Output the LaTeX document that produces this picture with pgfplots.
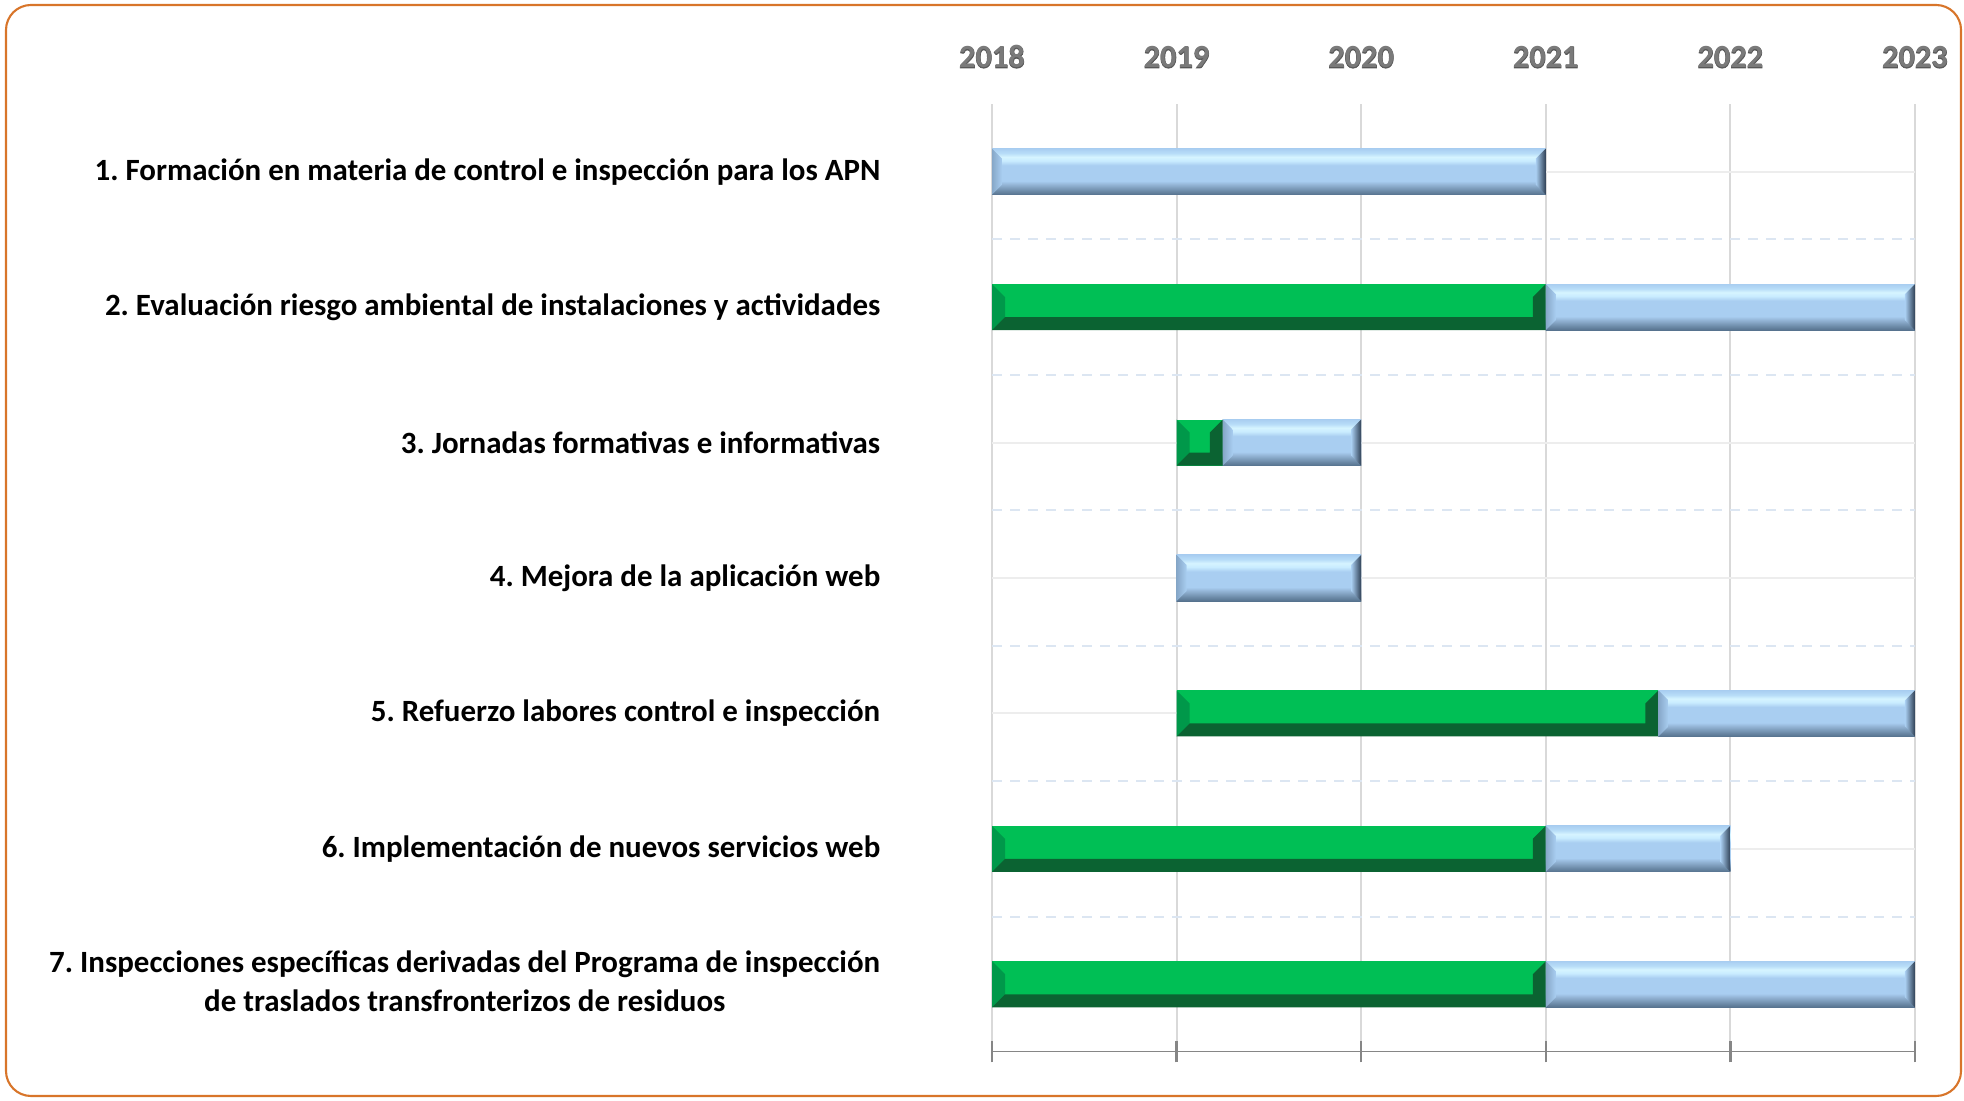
\documentclass[border=0pt]{standalone}
\usepackage{fontspec}
\setmainfont{Carlito}
\newfontfamily\tickfam{Carlito}[BoldFeatures={FakeBold=2.2}]
\usepackage{pgfplots}
\pgfplotsset{compat=1.18}
\usetikzlibrary{calc}
\frenchspacing

\definecolor{gface}{HTML}{00BF55}
\definecolor{gleft}{HTML}{00984A}
\definecolor{gdark}{HTML}{0B6332}
\definecolor{bA}{HTML}{56728E}
\definecolor{bB}{HTML}{6B89A6}
\definecolor{bC}{HTML}{93B4D5}
\definecolor{bD}{HTML}{A9CEF1}
\definecolor{bE}{HTML}{C9ECFF}
\definecolor{bF}{HTML}{D6F4FF}
\definecolor{bG}{HTML}{B8DDF8}
\definecolor{bL}{HTML}{86A7C8}
\definecolor{bR}{HTML}{2E3F54}
\definecolor{gridv}{HTML}{D9D9D9}
\definecolor{gridh}{HTML}{EDEDED}
\definecolor{gridd}{HTML}{DCE6F2}
\definecolor{axisgray}{HTML}{868686}
\definecolor{tickgray}{HTML}{7A7A7A}
\definecolor{tickdark}{HTML}{575757}
\definecolor{framec}{HTML}{D8752A}

% year label: grey figures with a darker rim
\newcommand\tk[1]{\ooalign{\hfil{\color{tickdark}\tickfam\bfseries #1}\hfil\cr
  \hfil{\color{tickgray}\bfseries #1}\hfil\cr}}

% soft bevel of the light blue bars (25bp..75bp is the bar height)
\pgfdeclareverticalshading{bluebar}{100bp}{color(0bp)=(bA); color(25bp)=(bA);
  color(29bp)=(bB); color(36bp)=(bC); color(40bp)=(bD); color(57bp)=(bD);
  color(62bp)=(bE); color(66bp)=(bF); color(70bp)=(bG); color(75bp)=(bD);
  color(100bp)=(bD)}

% bevel drawn inside each bar; the guard stops the inner paths from nesting
\newcommand\greenbev{%
  \ifdefined\bevguard\else\def\bevguard{}%
    \coordinate (q1) at (path picture bounding box.south west);
    \coordinate (q2) at (path picture bounding box.north east);
    \fill[gleft] (q1) -- ($(q1)+(1.3mm,1.3mm)$) -- ($(q1|-q2)+(1.3mm,-1.3mm)$)
      -- (q1|-q2) -- cycle;
    \fill[gdark] (q1) -- (q2|-q1) -- (q2) -- ($(q2)+(-1.3mm,-1.3mm)$)
      -- ($(q2|-q1)+(-1.3mm,1.3mm)$) -- ($(q1)+(1.3mm,1.3mm)$) -- cycle;
  \fi}
\newcommand\bluebev{%
  \ifdefined\bevguard\else\def\bevguard{}%
    \coordinate (q1) at (path picture bounding box.south west);
    \coordinate (q2) at (path picture bounding box.north east);
    \shade[left color=bL, right color=bD] (q1) -- ($(q1)+(1mm,1mm)$)
      -- ($(q1|-q2)+(1mm,-1mm)$) -- (q1|-q2) -- cycle;
    \shade[left color=bD, right color=bR] (q2|-q1) -- (q2)
      -- ($(q2)+(-1mm,-1mm)$) -- ($(q2|-q1)+(-1mm,1mm)$) -- cycle;
  \fi}
\pgfplotsset{
  done/.style={fill=gface, draw=none, path picture={\greenbev}},
  todo/.style={shade, shading=bluebar, draw=none, path picture={\bluebev}},
}

\begin{document}
\begin{tikzpicture}
\useasboundingbox (0,0) rectangle (196.4mm,110.1mm);
\draw[framec, line width=0.6pt, rounded corners=2.5mm] (0.6mm,0.5mm) rectangle (196.1mm,109.6mm);
\begin{axis}[
    at={(99.2mm,4.9mm)}, anchor=south west,
    scale only axis,
    width=92.3mm, height=94.8mm,
    no markers,
    xmin=2018, xmax=2023,
    ymin=0.5, ymax=7.5,
    xtick={2018,2019,2020,2021,2022,2023},
    xticklabels={\tk{2018},\tk{2019},\tk{2020},\tk{2021},\tk{2022},\tk{2023}},
    xtick pos=left, xticklabel pos=right,
    ytick={1,2,3,4,5,6,7},
    minor ytick={1.5,2.5,3.5,4.5,5.5,6.5},
    ytick pos=left,
    yticklabels={
      {\begin{tabular}{@{}c@{}}7. Inspecciones específicas derivadas del Programa de inspección\\de traslados transfronterizos de residuos\end{tabular}},
      6. Implementación de nuevos servicios web,
      5. Refuerzo labores control e inspección,
      4. Mejora de la aplicación web,
      3. Jornadas formativas e informativas,
      2. Evaluación riesgo ambiental de instalaciones y actividades,
      1. Formación en materia de control e inspección para los APN},
    yticklabel style={font=\fontsize{8.8}{11.1}\selectfont\bfseries, text=black,
      inner xsep=0pt, xshift=-10.05mm},
    xticklabel style={font=\fontsize{9.2}{11}\selectfont,
      anchor=base, yshift=2.55mm},
    axis line style={draw=none},
    tick align=center,
    major tick length=2.1mm,
    xtick style={draw=axisgray, line width=0.25mm},
    ytick style={draw=none},
    xmajorgrids, ymajorgrids, yminorgrids,
    major x grid style={draw=gridv, line width=0.2mm},
    major y grid style={draw=gridh, line width=0.2mm},
    minor y grid style={draw=gridd, line width=0.2mm, dash pattern=on 1mm off 0.8mm},
]
    % each bar: start year, end year, row (bar height 0.34)
    % 1. Formacion
    \addplot[todo] coordinates {(2018,6.83) (2021,6.83) (2021,7.17) (2018,7.17)} -- cycle;
    % 2. Evaluacion riesgo ambiental
    \addplot[done] coordinates {(2018,5.83) (2021,5.83) (2021,6.17) (2018,6.17)} -- cycle;
    \addplot[todo] coordinates {(2021,5.83) (2023,5.83) (2023,6.17) (2021,6.17)} -- cycle;
    % 3. Jornadas
    \addplot[done] coordinates {(2019,4.83) (2019.25,4.83) (2019.25,5.17) (2019,5.17)} -- cycle;
    \addplot[todo] coordinates {(2019.25,4.83) (2020,4.83) (2020,5.17) (2019.25,5.17)} -- cycle;
    % 4. Mejora aplicacion web
    \addplot[todo] coordinates {(2019,3.83) (2020,3.83) (2020,4.17) (2019,4.17)} -- cycle;
    % 5. Refuerzo labores
    \addplot[done] coordinates {(2019,2.83) (2021.61,2.83) (2021.61,3.17) (2019,3.17)} -- cycle;
    \addplot[todo] coordinates {(2021.61,2.83) (2023,2.83) (2023,3.17) (2021.61,3.17)} -- cycle;
    % 6. Nuevos servicios web
    \addplot[done] coordinates {(2018,1.83) (2021,1.83) (2021,2.17) (2018,2.17)} -- cycle;
    \addplot[todo] coordinates {(2021,1.83) (2022,1.83) (2022,2.17) (2021,2.17)} -- cycle;
    % 7. Inspecciones traslados
    \addplot[done] coordinates {(2018,0.83) (2021,0.83) (2021,1.17) (2018,1.17)} -- cycle;
    \addplot[todo] coordinates {(2021,0.83) (2023,0.83) (2023,1.17) (2021,1.17)} -- cycle;
    \draw[axisgray, line width=0.25mm] (rel axis cs:0,0) -- (rel axis cs:1,0);
\end{axis}
\end{tikzpicture}
\end{document}
